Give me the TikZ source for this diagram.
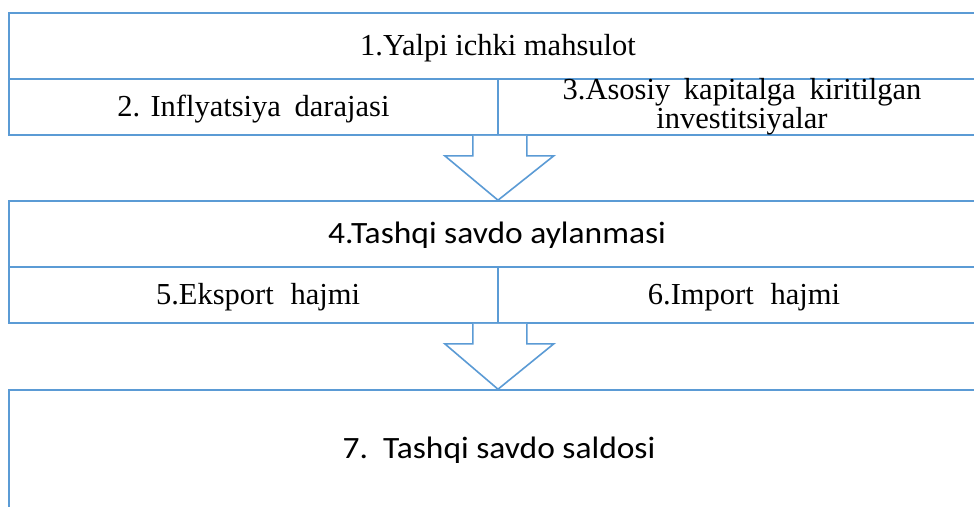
\documentclass[tikz,border=0pt]{standalone}
\usepackage{fontspec}
\setmainfont{Liberation Serif}
\newfontfamily\calib[FakeStretch=1.08]{Carlito}
\usetikzlibrary{calc}
\definecolor{lineblue}{HTML}{5B9BD5}
\newcommand{\ws}{\hspace{0.55em}}
\newcommand{\wsn}{\hspace{0.45em}}
\tikzset{
  cell/.style={draw=lineblue, line width=1.6pt, fill=white, inner sep=0pt, align=center, text=black, text height=22pt, text depth=4pt},
  tnr/.style={font=\fontsize{30.5}{27}\selectfont},
  cal/.style={font=\calib\fontsize{31}{32}\selectfont},
  blockarrow/.style={draw=lineblue, line width=1.6pt, fill=white, line join=miter}
}
\begin{document}
\begin{tikzpicture}[x=1pt,y=-1pt]
\useasboundingbox (0,0) rectangle (974,506);
\clip (0,0) rectangle (974,506);
\fill[white] (0,0) rectangle (974,506);
% top block
\node[cell, tnr, minimum width=981, minimum height=66] (n1) at (499.5,46) {\hspace{-3pt}1.Yalpi ichki mahsulot};
\node[cell, tnr, minimum width=489, minimum height=56] (n2) at (253.5,107) {2. Inflyatsiya\wsn darajasi};
\node[cell, minimum width=492, minimum height=56] (n3) at (744,107) {};
\node[tnr, align=center, inner sep=0pt, anchor=base] (n3t) at (742,128) {3.Asosiy\wsn kapitalga\wsn kiritilgan\\investitsiyalar};
% middle block
\node[cell, cal, minimum width=981, minimum height=66] (n4) at (499.5,234) {\hspace{-5pt}4.Tashqi savdo aylanmasi};
\node[cell, tnr, minimum width=489, minimum height=56] (n5) at (253.5,295) {\hspace{9pt}5.Eksport\ws hajmi};
\node[cell, tnr, minimum width=492, minimum height=56] (n6) at (744,295) {6.Import\ws hajmi};
% bottom block
\node[cell, minimum width=981, minimum height=140] (n7) at (499.5,460) {};
\node[cal, inner sep=0pt, anchor=base] (n7t) at (499,458) {7.\ \ Tashqi savdo saldosi};
% block arrows
\draw[blockarrow] ($(n2.south east)+(-26,0)$) -- ++(0,20) -- ++(-28,0) -- ($(n4.north)+(-1.5,0)$) -- ($(n2.south east)+(55,20)$) -- ($(n2.south east)+(28,20)$) -- ($(n2.south east)+(28,0)$);
\draw[blockarrow] ($(n5.south east)+(-26,0)$) -- ++(0,20) -- ++(-28,0) -- ($(n7.north)+(-1.5,0)$) -- ($(n5.south east)+(55,20)$) -- ($(n5.south east)+(28,20)$) -- ($(n5.south east)+(28,0)$);
\end{tikzpicture}
\end{document}
